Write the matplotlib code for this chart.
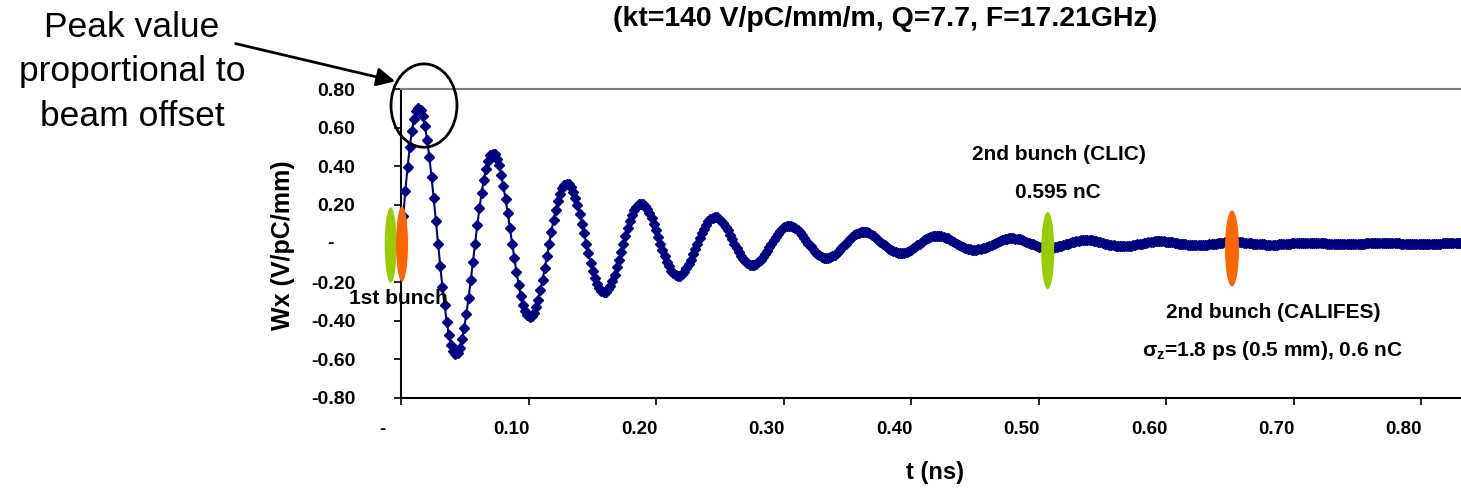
import numpy as np
import matplotlib
matplotlib.use("Agg")
import matplotlib.pyplot as plt
from matplotlib.patches import Ellipse

plt.rcParams['font.family'] = ['Liberation Sans', 'DejaVu Sans']
plt.rcParams['mathtext.fontset'] = 'custom'
plt.rcParams['mathtext.bf'] = 'Liberation Sans:bold'
plt.rcParams['mathtext.rm'] = 'Liberation Sans:bold'

# transverse wake Wx (V/pC/mm), one sample every dt ns
dt = 0.001709
wx = [
    0.000, 0.141, 0.273, 0.394, 0.498, 0.582, 0.646, 0.685, 0.701, 0.693, 0.661, 0.608, 0.536, 0.447, 0.345, 0.234, 0.117,
    0.000, -0.115, -0.223, -0.321, -0.406, -0.475, -0.527, -0.559, -0.572, -0.565, -0.539, -0.496, -0.437, -0.364, -0.281, -0.191, -0.096,
    0.000, 0.094, 0.182, 0.262, 0.331, 0.387, 0.429, 0.456, 0.466, 0.461, 0.440, 0.404, 0.356, 0.297, 0.229, 0.156, 0.078,
    0.000, -0.076, -0.148, -0.213, -0.270, -0.316, -0.350, -0.372, -0.380, -0.376, -0.359, -0.330, -0.290, -0.242, -0.187, -0.127, -0.064,
    0.000, 0.062, 0.121, 0.174, 0.220, 0.258, 0.286, 0.303, 0.310, 0.306, 0.292, 0.269, 0.237, 0.198, 0.153, 0.103, 0.052,
    0.000, -0.051, -0.099, -0.142, -0.179, -0.210, -0.233, -0.247, -0.253, -0.250, -0.238, -0.219, -0.193, -0.161, -0.124, -0.084, -0.042,
    0.000, 0.041, 0.080, 0.116, 0.146, 0.171, 0.190, 0.202, 0.206, 0.204, 0.194, 0.179, 0.158, 0.131, 0.101, 0.069, 0.035,
    0.000, -0.034, -0.066, -0.094, -0.119, -0.140, -0.155, -0.164, -0.168, -0.166, -0.159, -0.146, -0.128, -0.107, -0.083, -0.056, -0.028,
    0.000, 0.028, 0.054, 0.077, 0.097, 0.114, 0.126, 0.134, 0.137, 0.136, 0.129, 0.119, 0.105, 0.087, 0.068, 0.046, 0.023,
    0.000, -0.022, -0.044, -0.063, -0.079, -0.093, -0.103, -0.109, -0.112, -0.111, -0.106, -0.097, -0.085, -0.071, -0.055, -0.037, -0.019,
    0.000, 0.018, 0.036, 0.051, 0.065, 0.076, 0.084, 0.089, 0.091, 0.090, 0.086, 0.079, 0.070, 0.058, 0.045, 0.030, 0.015,
    0.000, -0.015, -0.029, -0.042, -0.053, -0.062, -0.069, -0.073, -0.074, -0.074, -0.070, -0.065, -0.057, -0.047, -0.037, -0.025, -0.013,
    0.000, 0.012, 0.024, 0.034, 0.043, 0.050, 0.056, 0.059, 0.061, 0.060, 0.057, 0.053, 0.046, 0.039, 0.030, 0.020, 0.010,
    0.000, -0.010, -0.019, -0.028, -0.035, -0.041, -0.046, -0.048, -0.049, -0.049, -0.047, -0.043, -0.038, -0.032, -0.024, -0.017, -0.008,
    0.000, 0.008, 0.016, 0.023, 0.029, 0.034, 0.037, 0.039, 0.040, 0.040, 0.038, 0.035, 0.031, 0.026, 0.020, 0.014, 0.007,
    0.000, -0.007, -0.013, -0.019, -0.023, -0.027, -0.030, -0.032, -0.033, -0.033, -0.031, -0.029, -0.025, -0.021, -0.016, -0.011, -0.006,
    0.000, 0.005, 0.010, 0.015, 0.019, 0.022, 0.025, 0.026, 0.027, 0.027, 0.025, 0.023, 0.021, 0.017, 0.013, 0.009, 0.005,
    0.000, -0.004, -0.009, -0.012, -0.016, -0.018, -0.020, -0.021, -0.022, -0.022, -0.021, -0.019, -0.017, -0.014, -0.011, -0.007, -0.004,
    0.000, 0.004, 0.007, 0.010, 0.013, 0.015, 0.016, 0.017, 0.018, 0.018, 0.017, 0.016, 0.014, 0.011, 0.009, 0.006, 0.003,
    0.000, -0.003, -0.006, -0.008, -0.010, -0.012, -0.013, -0.014, -0.015, -0.014, -0.014, -0.013, -0.011, -0.009, -0.007, -0.005, -0.002,
    0.000, 0.002, 0.005, 0.007, 0.008, 0.010, 0.011, 0.012, 0.012, 0.012, 0.011, 0.010, 0.009, 0.008, 0.006, 0.004, 0.002,
    0.000, -0.002, -0.004, -0.005, -0.007, -0.008, -0.009, -0.009, -0.010, -0.010, -0.009, -0.008, -0.007, -0.006, -0.005, -0.003, -0.002,
    0.000, 0.002, 0.003, 0.004, 0.006, 0.007, 0.007, 0.008, 0.008, 0.008, 0.007, 0.007, 0.006, 0.005, 0.004, 0.003, 0.001,
    0.000, -0.001, -0.003, -0.004, -0.005, -0.005, -0.006, -0.006, -0.006, -0.006, -0.006, -0.006, -0.005, -0.004, -0.003, -0.002, -0.001,
    0.000, 0.001, 0.002, 0.003, 0.004, 0.004, 0.005, 0.005, 0.005, 0.005, 0.005, 0.005, 0.004, 0.003, 0.003, 0.002, 0.001,
    0.000, -0.001, -0.002, -0.002, -0.003, -0.004, -0.004, -0.004, -0.004, -0.004, -0.004, -0.004, -0.004, -0.003, -0.003, -0.002, -0.001,
    0.000, 0.001, 0.001, 0.002, 0.003, 0.003, 0.003, 0.003, 0.004, 0.003, 0.003, 0.003, 0.003, 0.002, 0.002, 0.001, 0.001,
    0.000, -0.001, -0.001, -0.002, -0.002, -0.002, -0.003, -0.003, -0.003, -0.003, -0.003, -0.002, -0.002, -0.002, -0.001, -0.001, 0.000,
    0.000, 0.000, 0.001, 0.001, 0.002, 0.002, 0.002, 0.002, 0.002, 0.002, 0.002, 0.002, 0.002, 0.001, 0.001, 0.001, 0.000,
    0.000, 0.000, -0.001, -0.001, -0.001, -0.002, -0.002, -0.002, -0.002, -0.002, -0.002, -0.002, -0.001, -0.001, -0.001, -0.001, 0.000,
]
t = np.arange(len(wx)) * dt

x_ticks = [0.0, 0.1, 0.2, 0.3, 0.4, 0.5, 0.6, 0.7, 0.8]
x_labels = ['-', '0.10', '0.20', '0.30', '0.40', '0.50', '0.60', '0.70', '0.80']
y_ticks = [-0.8, -0.6, -0.4, -0.2, 0.0, 0.2, 0.4, 0.6, 0.8]

W, H = 1461, 488


def fpx(x, y):
    # figure pixel (from top-left) -> figure fraction
    return x / W, 1 - y / H


fig = plt.figure(figsize=(W / 100, H / 100), dpi=100)
ax = fig.add_axes([401 / W, 1 - 398 / H, 1 - 401 / W, (398 - 89) / H])

ax.plot(t, wx, color='#000080', lw=1.5, marker='D', ms=5, mec='#000080', mfc='#000080', zorder=3)

ax.set_xlim(0, 1060 / 1275)
ax.set_ylim(-0.8, 0.8)

ax.spines['right'].set_visible(False)
ax.spines['top'].set_color('#808080')
ax.spines['top'].set_linewidth(1.5)
for s in ['left', 'bottom']:
    ax.spines[s].set_color('black')
    ax.spines[s].set_linewidth(1.5)

# x labels sit a little left of their ticks (accounting number format)
ax.set_xticks(x_ticks)
ax.set_xticklabels([])
for v, lab in zip(x_ticks, x_labels):
    shift = -19 if lab == '-' else -17
    ax.annotate(lab, xy=(v, 0), xycoords=('data', 'axes fraction'), xytext=(shift, -32),
                textcoords='offset pixels', ha='center', va='center', fontsize=13.5,
                fontweight='bold', annotation_clip=False)

ax.set_yticks(y_ticks)
ax.set_yticklabels(['' if v == 0 else '%.2f' % v for v in y_ticks])
ax.tick_params(axis='x', direction='out', length=5, width=1.2)
ax.tick_params(axis='y', direction='out', length=5, width=1.2, pad=28, labelsize=14)
for lab in ax.get_yticklabels():
    lab.set_fontweight('bold')
fig.text(*fpx(331, 244), '-', ha='center', va='center', fontsize=14, fontweight='bold')

fig.text(*fpx(283, 245), 'Wx (V/pC/mm)', rotation=90, ha='center', va='center',
         fontsize=18, fontweight='bold')
fig.text(*fpx(935, 473), 't (ns)', ha='center', va='center', fontsize=17, fontweight='bold')
fig.text(*fpx(885, 19), '(kt=140 V/pC/mm/m, Q=7.7, F=17.21GHz)', ha='center', va='center',
         fontsize=20.5, fontweight='bold')


# bunch markers
def px2data(x, y):
    return (x - 401) / 1275, (244 - y) / 192.5


bunches = [(390.7, 245.5, 12, 75, '#99cc00'), (402, 244.5, 12, 75, '#ff6600'),
           (1047.7, 251, 13, 77, '#99cc00'), (1232, 249, 14, 76, '#ff6600')]
for bx, by, bw, bh, col in bunches:
    cx, cy = px2data(bx, by)
    ax.add_patch(Ellipse((cx, cy), bw / 1275, bh / 192.5, facecolor=col, edgecolor='none',
                         clip_on=False, zorder=5))

cx, cy = px2data(424, 106.5)
ax.add_patch(Ellipse((cx, cy), 66 / 1275, 83 / 192.5, facecolor='none', edgecolor='black',
                     lw=2, clip_on=False, zorder=6))

fig.text(*fpx(398, 298), '1st bunch', ha='center', va='center', fontsize=15, fontweight='bold', zorder=7)
fig.text(*fpx(1059, 155), '2nd bunch (CLIC)', ha='center', va='center', fontsize=15, fontweight='bold')
fig.text(*fpx(1058, 193), '0.595 nC', ha='center', va='center', fontsize=15, fontweight='bold')
fig.text(*fpx(1273, 312), '2nd bunch (CALIFES)', ha='center', va='center', fontsize=15, fontweight='bold')
fig.text(*fpx(1273, 350), r'$\mathbf{\sigma_z}$=1.8 ps (0.5 mm), 0.6 nC', ha='center', va='center',
         fontsize=15, fontweight='bold')

fig.text(*fpx(132, 72), 'Peak value\nproportional to\nbeam offset', ha='center', va='center',
         fontsize=25.5, linespacing=1.45)
ax.annotate('', xy=(398, H - 82), xycoords='figure pixels', xytext=(233, H - 43), textcoords='figure pixels',
            arrowprops=dict(arrowstyle='-|>', color='black', lw=2, mutation_scale=28), annotation_clip=False)

fig.savefig('out.png', dpi=100)
